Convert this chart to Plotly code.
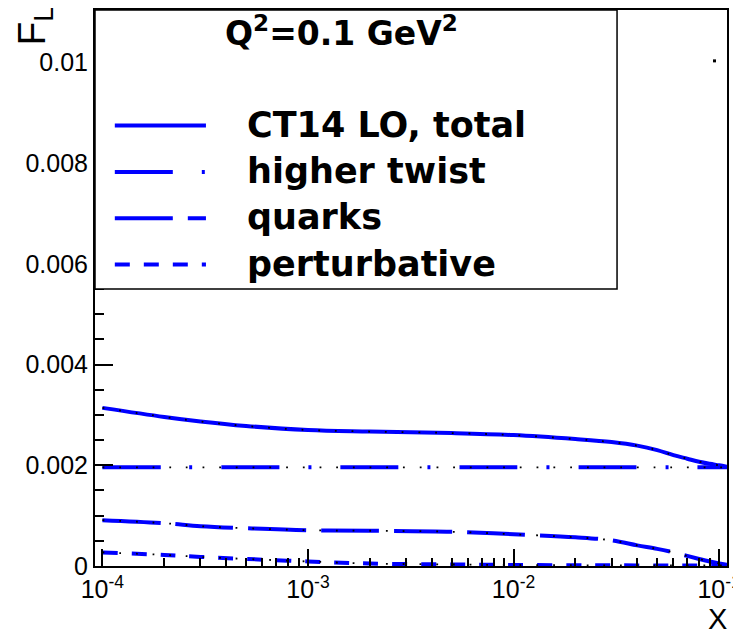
import plotly.graph_objects as go

# ---------------- data ----------------
x_vals = [1e-4, 2e-4, 3e-4, 5e-4, 1e-3, 2e-3, 5e-3, 1e-2, 2e-2,
          3e-2, 4e-2, 5e-2, 6e-2, 7e-2, 8e-2, 9e-2, 0.1, 0.11]

fl_total = [0.00314, 0.00296, 0.00287, 0.00278, 0.00270, 0.00267, 0.00264, 0.00260, 0.00252,
            0.00246, 0.00239, 0.00230, 0.00220, 0.00213, 0.00207, 0.00203, 0.00200, 0.00197]
fl_twist = [0.00196] * len(x_vals)
fl_quarks = [0.00091, 0.00085, 0.00079, 0.00075, 0.00071, 0.00070, 0.00068, 0.00063, 0.00057,
             0.00051, 0.00041, 0.00034, 0.00027, 0.00020, 0.00014, 0.00009, 0.00005, 0.00002]
fl_pert = [0.00027, 0.00022, 0.00018, 0.00014, 0.00009, 0.00005, 0.00003, 0.00002, 0.000015,
           0.000013, 0.000012, 0.000011, 0.00001, 0.00001, 0.00001, 0.00001, 0.00001, 0.00001]

stray_x = [0.095]
stray_y = [0.01003]

series_names = ["CT14 LO, total", "higher twist", "quarks", "perturbative"]
series_values = [fl_total, fl_twist, fl_quarks, fl_pert]
series_dash = ["solid", "58px,29px,3px,29px", "58px,15px", "15px,14px"]

y_tick_vals = [0, 0.002, 0.004, 0.006, 0.008, 0.01]
y_tick_text = ["0", "0.002", "0.004", "0.006", "0.008", "0.01"]
x_tick_vals = [1e-4, 1e-3, 1e-2, 1e-1]
x_tick_text = ["10<sup>-4</sup>", "10<sup>-3</sup>", "10<sup>-2</sup>", "10<sup>-1</sup>"]
title_text = "Q<sup>2</sup>=0.1 GeV<sup>2</sup>"

BLUE = "#0000ff"
FONT = "Liberation Sans, Arial, sans-serif"

fig = go.Figure()

for name, vals, dash in zip(series_names, series_values, series_dash):
    fig.add_trace(go.Scatter(x=x_vals, y=vals, mode="lines", name=name,
                             line=dict(color=BLUE, width=4, dash=dash, shape="spline"),
                             showlegend=False))
# black dotted overlay seen on every curve
for vals in series_values:
    fig.add_trace(go.Scatter(x=x_vals, y=vals, mode="lines",
                             line=dict(color="black", width=1.8, dash="1.8px,14.9px", shape="spline"),
                             showlegend=False, hoverinfo="skip"))
fig.add_trace(go.Scatter(x=stray_x, y=stray_y, mode="markers",
                         marker=dict(color="black", size=3, symbol="square"),
                         showlegend=False))

minor_x = [k * 10.0 ** d for d in (-4, -3, -2) for k in range(2, 10)]
minor_y = [i * 0.0005 for i in range(0, 23) if i % 4 != 0]

fig.update_xaxes(type="log", range=[-4.036, -0.9614],
                 tickmode="array", tickvals=x_tick_vals, ticktext=x_tick_text,
                 ticklabeloverflow="allow",
                 ticks="inside", ticklen=17, tickwidth=1.5, tickcolor="black",
                 minor=dict(tickmode="array", tickvals=minor_x, ticks="inside",
                            ticklen=8, tickwidth=1.5, tickcolor="black", showgrid=False),
                 showline=True, linecolor="black", linewidth=2, mirror=True,
                 showgrid=False, zeroline=False,
                 tickfont=dict(family=FONT, size=25, color="black"))
fig.update_yaxes(range=[0, 0.01104],
                 tickmode="array", tickvals=y_tick_vals, ticktext=y_tick_text,
                 ticks="inside", ticklen=18, tickwidth=1.5, tickcolor="black",
                 minor=dict(tickmode="array", tickvals=minor_y, ticks="inside",
                            ticklen=9, tickwidth=1.5, tickcolor="black", showgrid=False),
                 showline=True, linecolor="black", linewidth=2, mirror=True,
                 showgrid=False, zeroline=False,
                 tickfont=dict(family=FONT, size=25, color="black"))

# ---------------- page geometry (body has an 8px default margin) ----------------
OFF = 8
L, R, T, B = 95, 733, 8, 566        # plot frame in page pixels
FIG_W, FIG_H = 741 - OFF, 635 - OFF
W, H = R - L, B - T


def px(xp):
    return (xp - L) / W


def py(yp):
    return (B - yp) / H


shapes = [dict(type="rect", xref="paper", yref="paper", layer="above",
               x0=px(95), x1=px(622), y0=py(288), y1=py(8),
               fillcolor="white", line=dict(color="black", width=1.5))]
annotations = []
leg_y = [124, 170.5, 217, 263.5]
for name, dash, ly in zip(series_names, series_dash, leg_y):
    shapes.append(dict(type="line", xref="paper", yref="paper", layer="above",
                       x0=px(115), x1=px(207), y0=py(ly), y1=py(ly),
                       line=dict(color=BLUE, width=4, dash=dash)))
    annotations.append(dict(xref="paper", yref="paper", x=px(246), y=py(ly - 1),
                            xanchor="left", yanchor="middle", showarrow=False,
                            text="<b>%s</b>" % name,
                            font=dict(family="DejaVu Sans", size=35, color="black")))

annotations.append(dict(xref="paper", yref="paper", x=px(344), y=py(30),
                        xanchor="center", yanchor="middle", showarrow=False,
                        text="<b>%s</b>" % title_text,
                        font=dict(family="DejaVu Sans", size=33, color="black")))
annotations.append(dict(xref="paper", yref="paper", x=px(34), y=py(24),
                        xanchor="center", yanchor="middle", showarrow=False,
                        text="F<sub>L</sub>", textangle=-90,
                        font=dict(family=FONT, size=39, color="black")))
annotations.append(dict(xref="paper", yref="paper", x=px(735), y=py(619),
                        xanchor="right", yanchor="middle", showarrow=False,
                        text="X", font=dict(family=FONT, size=29, color="black")))

fig.update_layout(width=FIG_W, height=FIG_H,
                  margin=dict(l=L - OFF, r=FIG_W - (R - OFF), t=T - OFF, b=FIG_H - (B - OFF)),
                  paper_bgcolor="white", plot_bgcolor="white",
                  showlegend=False, shapes=shapes, annotations=annotations)

fig.write_html("out.html")
